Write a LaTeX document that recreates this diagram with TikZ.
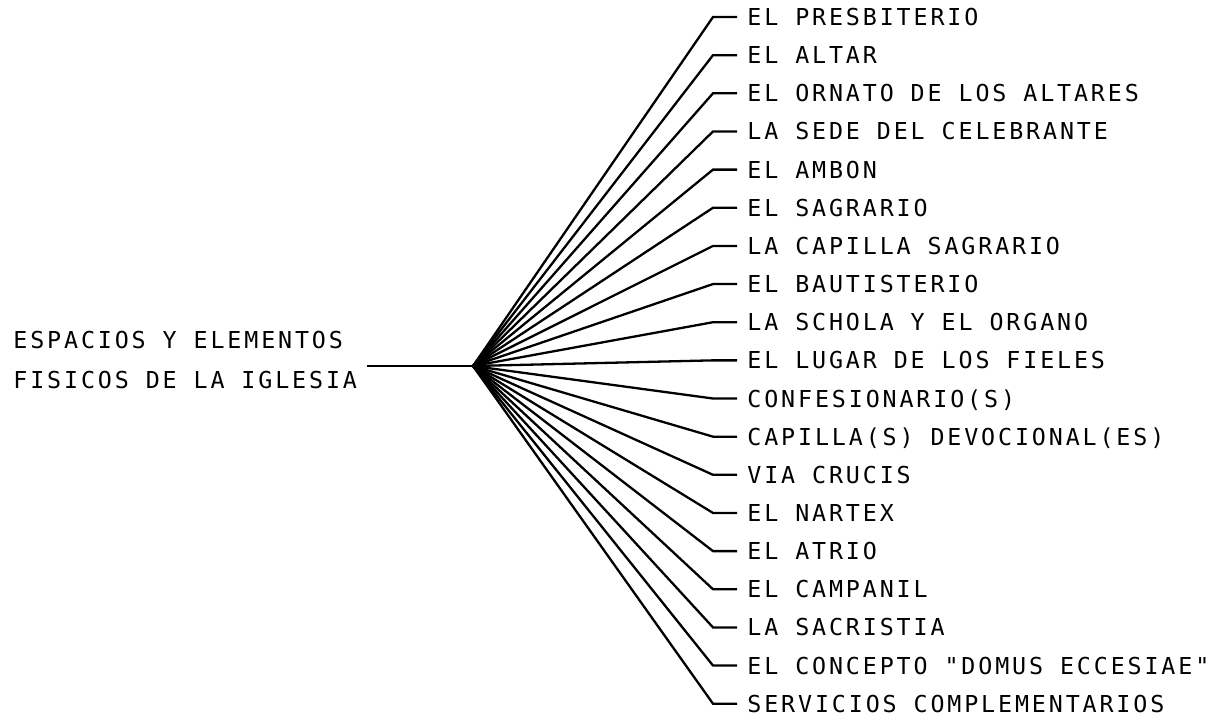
\documentclass[tikz,border=0pt]{standalone}
\usepackage{fontspec}
\newfontfamily\maquina[LetterSpace=12.3]{DejaVu Sans Mono}
\usetikzlibrary{positioning}

\begin{document}
\begin{tikzpicture}[x=0.5pt, y=-0.5pt, node distance=19.075pt,
    every node/.style={font=\maquina\fontsize{11.66}{20}\selectfont, inner sep=0pt},
    item/.style={anchor=west, inner xsep=5pt, text height=8.5pt, text depth=0pt},
    rama/.style={line width=1.15pt}]
        \useasboundingbox (0,0) rectangle (1226,719);

        % Raiz
        \node[align=left, anchor=west, inner xsep=5pt, text height=28.5pt, text depth=0pt] (raiz) at (3,360) {ESPACIOS Y ELEMENTOS\\FISICOS DE LA IGLESIA};
        \coordinate (hub) at (473,366);
        \draw[line width=1.4pt] (raiz.east |- hub) -- (hub);

        % Elementos
        \node[item] (b0) at (737,17) {EL PRESBITERIO};
        \node[below=of b0.west, item] (b1) {EL ALTAR};
        \node[below=of b1.west, item] (b2) {EL ORNATO DE LOS ALTARES};
        \node[below=of b2.west, item] (b3) {LA SEDE DEL CELEBRANTE};
        \node[below=of b3.west, item] (b4) {EL AMBON};
        \node[below=of b4.west, item] (b5) {EL SAGRARIO};
        \node[below=of b5.west, item] (b6) {LA CAPILLA SAGRARIO};
        \node[below=of b6.west, item] (b7) {EL BAUTISTERIO};
        \node[below=of b7.west, item] (b8) {LA SCHOLA Y EL ORGANO};
        \node[below=of b8.west, item] (b9) {EL LUGAR DE LOS FIELES};
        \node[below=of b9.west, item] (b10) {CONFESIONARIO(S)};
        \node[below=of b10.west, item] (b11) {CAPILLA(S) DEVOCIONAL(ES)};
        \node[below=of b11.west, item] (b12) {VIA CRUCIS};
        \node[below=of b12.west, item] (b13) {EL NARTEX};
        \node[below=of b13.west, item] (b14) {EL ATRIO};
        \node[below=of b14.west, item] (b15) {EL CAMPANIL};
        \node[below=of b15.west, item] (b16) {LA SACRISTIA};
        \node[below=of b16.west, item] (b17) {EL CONCEPTO "DOMUS ECCESIAE"};
        \node[below=of b17.west, item] (b18) {SERVICIOS COMPLEMENTARIOS};

        % Ramas
        \draw[rama] (hub) -- ([xshift=-12pt]b0.west) -- (b0.west);
        \draw[rama] (hub) -- ([xshift=-12pt]b1.west) -- (b1.west);
        \draw[rama] (hub) -- ([xshift=-12pt]b2.west) -- (b2.west);
        \draw[rama] (hub) -- ([xshift=-12pt]b3.west) -- (b3.west);
        \draw[rama] (hub) -- ([xshift=-12pt]b4.west) -- (b4.west);
        \draw[rama] (hub) -- ([xshift=-12pt]b5.west) -- (b5.west);
        \draw[rama] (hub) -- ([xshift=-12pt]b6.west) -- (b6.west);
        \draw[rama] (hub) -- ([xshift=-12pt]b7.west) -- (b7.west);
        \draw[rama] (hub) -- ([xshift=-12pt]b8.west) -- (b8.west);
        \draw[rama] (hub) -- ([xshift=-12pt]b9.west) -- (b9.west);
        \draw[rama] (hub) -- ([xshift=-12pt]b10.west) -- (b10.west);
        \draw[rama] (hub) -- ([xshift=-12pt]b11.west) -- (b11.west);
        \draw[rama] (hub) -- ([xshift=-12pt]b12.west) -- (b12.west);
        \draw[rama] (hub) -- ([xshift=-12pt]b13.west) -- (b13.west);
        \draw[rama] (hub) -- ([xshift=-12pt]b14.west) -- (b14.west);
        \draw[rama] (hub) -- ([xshift=-12pt]b15.west) -- (b15.west);
        \draw[rama] (hub) -- ([xshift=-12pt]b16.west) -- (b16.west);
        \draw[rama] (hub) -- ([xshift=-12pt]b17.west) -- (b17.west);
        \draw[rama] (hub) -- ([xshift=-12pt]b18.west) -- (b18.west);
    \end{tikzpicture}
\end{document}
